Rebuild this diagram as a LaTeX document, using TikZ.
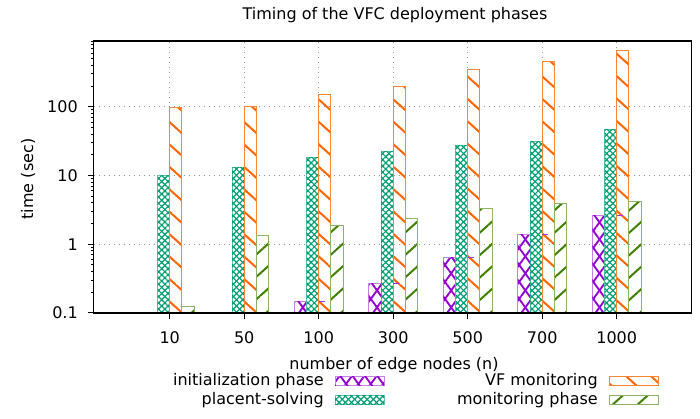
\documentclass[tikz,border=0pt]{standalone}
\usepackage{fontspec}
\setmainfont{DejaVu Sans}
\usetikzlibrary{patterns.meta}

\definecolor{initcol}{RGB}{148,0,211}
\definecolor{solvecol}{RGB}{0,158,115}
\definecolor{vfmoncol}{RGB}{255,102,0}
\definecolor{moncol}{RGB}{64,128,0}
\definecolor{gridcol}{RGB}{150,150,150}

\tikzset{
	gridline/.style={gridcol, line width=0.75pt, dash pattern=on 0.75pt off 3pt},
	initbar/.style={draw=initcol!50, line width=0.75pt,
		pattern={Lines[angle=54,distance=7.5pt,line width=1.4pt]}, pattern color=initcol,
		postaction={pattern={Lines[angle=-54,distance=7.5pt,line width=1.4pt]}, pattern color=initcol}},
	solvebar/.style={draw=solvecol!60, line width=0.75pt, fill=white,
		postaction={pattern={Lines[angle=45,distance=3.3pt,line width=0.9pt]}, pattern color=solvecol},
		postaction={pattern={Lines[angle=-45,distance=3.3pt,line width=0.9pt]}, pattern color=solvecol}},
	vfmonbar/.style={draw=vfmoncol!80, line width=0.75pt,
		pattern={Lines[angle=-42,distance=12.5pt,line width=1.5pt]}, pattern color=vfmoncol},
	monbar/.style={draw=moncol!60, line width=0.75pt,
		pattern={Lines[angle=42,distance=12.5pt,line width=1.5pt]}, pattern color=moncol},
}

% bar: left edge, value on the log axis, style
\newcommand{\histbar}[3]{\path[#3] ({#1},105) rectangle ({#1+12.2},{105+68.75*(log10(#2)+1)});}

\begin{document}
\begin{tikzpicture}[x=0.75pt,y=0.75pt,font=\fontsize{12}{14}\selectfont]
	\useasboundingbox (0,0) rectangle (700,418);

	\node (title) at (395,403) {Timing of the VFC deployment phases};

	% grid
	\foreach \k in {1,2,3}
		\draw[gridline] (93.5,{105+68.75*\k}) -- (691.5,{105+68.75*\k});
	\foreach \i in {0,...,6}
		\draw[gridline] ({169.7+74.5*\i},105) -- ({169.7+74.5*\i},377);

	% bars, one series after the other
	\foreach \i/\v in {2/0.145,3/0.267,4/0.645,5/1.38,6/2.6}
		\histbar{169.7+74.5*\i-24.4}{\v}{initbar};
	\foreach \i/\v in {0/10,1/13.2,2/18,3/22,4/27.1,5/31.4,6/45.9}
		\histbar{169.7+74.5*\i-12.2}{\v}{solvebar};
	\foreach \i/\v in {0/99,1/102,2/152,3/198,4/346,5/452,6/653}
		\histbar{169.7+74.5*\i}{\v}{vfmonbar};
	\foreach \i/\v in {2/0.145,3/0.267,4/0.645,5/1.38,6/2.6}
		\draw[initcol!80, line width=0.9pt] ({169.7+74.5*\i},{105+68.75*(log10(\v)+1)}) -- ++(6,0);
	\foreach \i/\v in {0/0.125,1/1.35,2/1.89,3/2.36,4/3.29,5/3.98,6/4.12}
		\histbar{169.7+74.5*\i+12.2}{\v}{monbar};

	% axes
	\draw[line width=0.9pt] (93.5,105) rectangle (691.5,377);
	\foreach \d in {-1,...,2}
		\foreach \m in {2,...,9}
			\draw[line width=0.75pt] (93.5,{105+68.75*(\d+1+log10(\m))}) -- ++(-3,0);
	\foreach \t/\lab in {0/0.1,1/1,2/10,3/100}{
		\draw[line width=0.75pt] (93.5,{105+68.75*\t}) -- ++(-6,0);
		\node[anchor=east, inner sep=0pt] (ytick\t) at (78,{105+68.75*\t}) {\lab};
	}
	\foreach \n [count=\i from 0] in {10,50,100,300,500,700,1000}{
		\draw[line width=0.75pt] ({169.7+74.5*\i},105) -- ++(0,-6);
		\node[inner sep=0pt] (xtick\i) at ({169.7+74.5*\i},80) {\n};
	}
	\node[rotate=90] (ytitle) at (28,239) {time (sec)};
	\node (xtitle) at (394,53) {number of edge nodes (n)};

	% legend
	\node[anchor=east, inner sep=0pt] (leginit) at (324,37) {initialization phase};
	\path[initbar] (335,32.3) rectangle (384,41.5);
	\node[anchor=east, inner sep=0pt] (legsolve) at (324,18) {placent-solving};
	\path[solvebar] (335,13.6) rectangle (384,22.8);
	\node[anchor=east, inner sep=0pt] (legvfmon) at (598,37) {VF monitoring};
	\path[vfmonbar] (609,32.3) rectangle (658,41.5);
	\node[anchor=east, inner sep=0pt] (legmon) at (598,18) {monitoring phase};
	\path[monbar] (609,13.6) rectangle (658,22.8);
\end{tikzpicture}
\end{document}
